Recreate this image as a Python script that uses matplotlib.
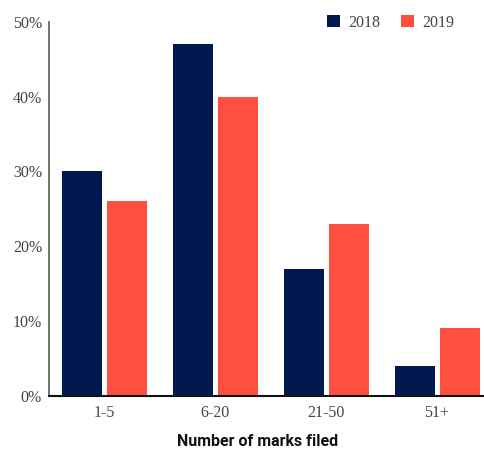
import matplotlib
matplotlib.use("Agg")
import matplotlib.pyplot as plt
import numpy as np

categories = ["1-5", "6-20", "21-50", "51+"]
values_2018 = [30, 47, 17, 4]
values_2019 = [26, 40, 23, 9]
series_labels = ["2018", "2019"]
y_ticks = [0, 10, 20, 30, 40, 50]

navy = "#001a4f"
coral = "#ff4f40"
text_col = "#444444"
serif = ["Liberation Serif"]

fig = plt.figure(figsize=(4.84, 4.51), dpi=100)
ax = fig.add_axes([49 / 484, 1 - 395.5 / 451, 1 - 49 / 484, (395.5 - 22) / 451])

x = np.arange(len(categories))
w = 0.361
off = 0.203
ax.bar(x - off, values_2018, width=w, color=navy, label=series_labels[0], zorder=2)
ax.bar(x + off, values_2019, width=w, color=coral, label=series_labels[1], zorder=2)

ax.set_xlim(-0.501, 3.424)
ax.set_ylim(0, 50)
ax.set_yticks(y_ticks)
ax.set_yticklabels([f"{v}%" for v in y_ticks], family=serif, fontsize=11.5, color=text_col)
ax.set_xticks(x)
ax.set_xticklabels(categories, family=serif, fontsize=11.5, color=text_col)
ax.tick_params(axis="both", length=0)
ax.tick_params(axis="y", pad=5)
ax.tick_params(axis="x", pad=7)

for s in ["top", "right"]:
    ax.spines[s].set_visible(False)
ax.spines["left"].set_color("#666666")
ax.spines["left"].set_linewidth(1.3)
ax.spines["bottom"].set_color("#111111")
ax.spines["bottom"].set_linewidth(1.5)

fig.text(258 / 484, 1 - 442 / 451, "Number of marks filed", fontsize=11.5,
         fontweight="bold", family=["Roboto", "DejaVu Sans"], color="#111111",
         ha="center", va="center")

leg = ax.legend(loc="upper right", bbox_to_anchor=(0.964, 1.058), ncol=2, frameon=False,
                handlelength=0.8, handleheight=0.8, handletextpad=0.5, columnspacing=1.33,
                prop={"family": "Liberation Serif", "size": 11.5})
for t in leg.get_texts():
    t.set_color(text_col)

fig.savefig("out.png", dpi=100)
